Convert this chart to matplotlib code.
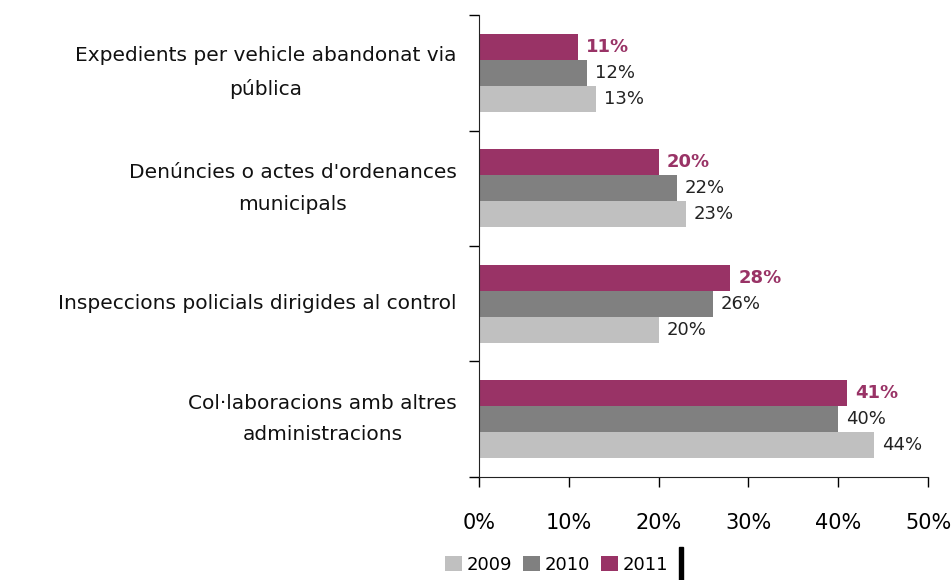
import matplotlib
matplotlib.use("Agg")
import matplotlib.pyplot as plt
from matplotlib.patches import Rectangle
from matplotlib.transforms import blended_transform_factory

categories = ["Expedients per vehicle abandonat via\npública",
              "Denúncies o actes d'ordenances\nmunicipals",
              "Inspeccions policials dirigides al control",
              "Col·laboracions amb altres\nadministracions"]
years = ["2009", "2010", "2011"]
v2009 = [13, 23, 20, 44]
v2010 = [12, 22, 26, 40]
v2011 = [11, 20, 28, 41]
xticks = [0, 10, 20, 30, 40, 50]
xticklabels = ["0%", "10%", "20%", "30%", "40%", "50%"]

colors = {"2009": "#C0C0C0", "2010": "#808080", "2011": "#993366"}

fig = plt.figure(figsize=(9.52, 5.8), dpi=100)
ax = fig.add_axes([0.503, 0.178, 0.472, 0.796])

h = 0.226
series = [("2011", v2011, -h), ("2010", v2010, 0.0), ("2009", v2009, h)]
for name, vals, off in series:
    ys = [i + off for i in range(len(categories))]
    ax.barh(ys, vals, height=h, color=colors[name], label=name, zorder=2)
    for y, v in zip(ys, vals):
        if name == "2011":
            ax.text(v + 0.9, y, f"{v}%", va="center", ha="left", fontsize=13,
                    color=colors[name], fontweight="bold")
        else:
            ax.text(v + 0.9, y, f"{v}%", va="center", ha="left", fontsize=13,
                    color="#222222")

ax.set_xlim(0, 50)
ax.set_ylim(len(categories) - 0.5, -0.5)
ax.set_xticks(xticks)
ax.set_xticklabels(xticklabels, fontsize=15)
ax.set_yticks([i - 0.5 for i in range(len(categories) + 1)])
ax.set_yticklabels([])
ax.tick_params(axis="y", which="major", length=7, direction="out", width=1)
ax.tick_params(axis="x", length=7, direction="out", width=1, pad=19)

trans = blended_transform_factory(ax.transAxes, ax.transData)
for i, cat in enumerate(categories):
    ax.text(-0.049, i, cat, transform=trans, ha="right", va="center",
            multialignment="center", fontsize=14.5, linespacing=1.85,
            color="#111111")

for s in ["top", "right"]:
    ax.spines[s].set_visible(False)
ax.spines["left"].set_color("#222222")
ax.spines["bottom"].set_color("#222222")

handles, labels = ax.get_legend_handles_labels()
order = [2, 1, 0]
fig.legend([handles[i] for i in order], [labels[i] for i in order],
           loc="center", bbox_to_anchor=(0.585, 0.026), ncol=3, frameon=False,
           fontsize=13, handlelength=0.9, handleheight=0.9, handletextpad=0.3,
           columnspacing=0.6)

fig.add_artist(Rectangle((679 / 952, 0.0), 4 / 952, 33 / 580,
                         transform=fig.transFigure, color="black"))

fig.savefig("out.png", dpi=100)
